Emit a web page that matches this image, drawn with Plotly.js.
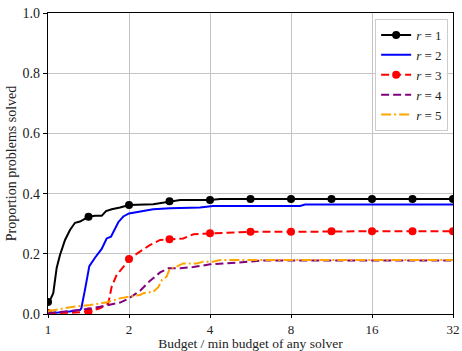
<!DOCTYPE html>
<html>
<head>
<meta charset="utf-8">
<script src="https://cdn.plot.ly/plotly-3.0.1.min.js"></script>
<style>html,body{margin:0;padding:0;background:#fff;}#chart{width:462px;height:351px;}</style>
</head>
<body>
<div id="chart"></div>
<script>
// ---- data ----
const seriesNames = ['<i>r</i>\u00a0=\u00a01', '<i>r</i>\u00a0=\u00a02', '<i>r</i>\u00a0=\u00a03', '<i>r</i>\u00a0=\u00a04', '<i>r</i>\u00a0=\u00a05'];

const x_r1 = [1, 1.017, 1.046, 1.077, 1.108, 1.157, 1.207, 1.26, 1.315, 1.372, 1.4142, 1.495, 1.583, 1.643, 1.725, 1.852, 1.933, 2, 2.46, 2.65, 2.8284, 3.1, 4, 4.36, 5.6569, 8, 11.3137, 16, 22.6274, 32];
const y_r1 = [0.04, 0.045, 0.069, 0.153, 0.196, 0.246, 0.279, 0.303, 0.307, 0.315, 0.323, 0.326, 0.326, 0.342, 0.348, 0.354, 0.359, 0.362, 0.365, 0.37, 0.375, 0.379, 0.379, 0.382, 0.382, 0.382, 0.382, 0.382, 0.382, 0.382];

const x_r2 = [1, 1.1, 1.2, 1.315, 1.33, 1.372, 1.424, 1.495, 1.583, 1.652, 1.714, 1.825, 1.905, 2.0, 2.2, 2.46, 2.84, 3.67, 4.1, 8.64, 9.02, 32];
const y_r2 = [0.002, 0.004, 0.008, 0.013, 0.019, 0.08, 0.159, 0.187, 0.216, 0.251, 0.257, 0.305, 0.324, 0.334, 0.34, 0.348, 0.351, 0.354, 0.359, 0.359, 0.364, 0.364];

const x_r3 = [1, 1.2, 1.4142, 1.56, 1.675, 1.725, 1.8, 1.933, 2, 2.2, 2.39, 2.61, 2.8284, 3.18, 3.47, 4, 5.6569, 8, 11.3137, 16, 22.6274, 32];
const y_r3 = [0.003, 0.004, 0.008, 0.019, 0.035, 0.091, 0.13, 0.163, 0.183, 0.207, 0.229, 0.246, 0.248, 0.251, 0.265, 0.268, 0.273, 0.273, 0.275, 0.275, 0.275, 0.275];

const x_r4 = [1, 1.315, 1.56, 1.7, 1.852, 2, 2.2, 2.39, 2.61, 2.8, 3.1, 3.47, 3.67, 4, 4.61, 6.31, 32];
const y_r4 = [0.003, 0.013, 0.024, 0.03, 0.038, 0.052, 0.077, 0.11, 0.138, 0.152, 0.152, 0.156, 0.159, 0.165, 0.168, 0.178, 0.178];

const x_r5 = [1, 1.017, 1.242, 1.433, 1.652, 1.852, 2, 2.2, 2.26, 2.46, 2.57, 2.65, 2.76, 2.84, 2.97, 3.18, 3.28, 3.57, 3.78, 4.1, 4.36, 32];
const y_r5 = [0.008, 0.011, 0.024, 0.03, 0.039, 0.052, 0.058, 0.063, 0.069, 0.074, 0.089, 0.113, 0.124, 0.152, 0.155, 0.168, 0.168, 0.168, 0.174, 0.174, 0.179, 0.179];

const xTickVals = [1, 2, 4, 8, 16, 32];
const xTickText = ['1', '2', '4', '8', '16', '32'];
const yTickVals = [0, 0.2, 0.4, 0.6, 0.8, 1.0];
const yTickText = ['0.0', '0.2', '0.4', '0.6', '0.8', '1.0'];

// ---- styling ----
const FONT = 'Liberation Serif, Times New Roman, serif';
function markerColors(xs, col) {
  // markers are shown only at half-octave budgets
  return xs.map(v => {
    const k = Math.log2(v) * 2;
    return Math.abs(k - Math.round(k)) < 0.01 ? col : 'rgba(0,0,0,0)';
  });
}

const traces = [
  {x: x_r1, y: y_r1, name: seriesNames[0], mode: 'lines+markers',
   line: {color: 'black', width: 2},
   marker: {size: 8, symbol: 'circle', color: markerColors(x_r1, 'black'), line: {width: 0}}},
  {x: x_r2, y: y_r2, name: seriesNames[1], mode: 'lines',
   line: {color: 'blue', width: 2}},
  {x: x_r3, y: y_r3, name: seriesNames[2], mode: 'lines+markers',
   line: {color: 'red', width: 2, dash: '8px,4px'},
   marker: {size: 8, symbol: 'circle', color: markerColors(x_r3, 'red'), line: {width: 0}}},
  {x: x_r4, y: y_r4, name: seriesNames[3], mode: 'lines',
   line: {color: 'purple', width: 2, dash: '8px,4px'}},
  {x: x_r5, y: y_r5, name: seriesNames[4], mode: 'lines',
   line: {color: 'orange', width: 2, dash: '10px,3px,2px,3px'}}
];

const axisCommon = {
  showline: true, linecolor: 'black', linewidth: 1.2, mirror: true,
  ticks: 'outside', ticklen: 4, tickwidth: 1, tickcolor: 'black',
  showgrid: true, gridcolor: '#c4c4c4', gridwidth: 1, zeroline: false,
  tickfont: {family: FONT, size: 14, color: '#222'}
};

const layout = {
  width: 462, height: 351,
  margin: {l: 48, r: 9, t: 13, b: 37},
  paper_bgcolor: 'white', plot_bgcolor: 'white',
  font: {family: FONT, size: 14, color: '#222'},
  showlegend: true,
  legend: {x: 0.988, xanchor: 'right', y: 0.98, yanchor: 'top',
           bgcolor: 'rgba(255,255,255,0.9)', bordercolor: '#cccccc', borderwidth: 1,
           font: {family: FONT, size: 13, color: '#222'}},
  xaxis: Object.assign({}, axisCommon, {
    type: 'log', range: [0, Math.log10(32)],
    tickmode: 'array', tickvals: xTickVals, ticktext: xTickText,
    tickfont: {family: FONT, size: 13, color: '#222'},
    ticklen: 3,
    ticklabelstandoff: 0,
    title: {text: 'Budget / min budget of any solver', font: {family: FONT, size: 13.5, color: '#222'}, standoff: 0}
  }),
  yaxis: Object.assign({}, axisCommon, {
    range: [0, 1],
    tickmode: 'array', tickvals: yTickVals, ticktext: yTickText,
    title: {text: 'Proportion problems solved', font: {family: FONT, size: 14, color: '#222'}, standoff: 2}
  })
};

Plotly.newPlot('chart', traces, layout, {displayModeBar: false, staticPlot: true});
</script>
</body>
</html>
